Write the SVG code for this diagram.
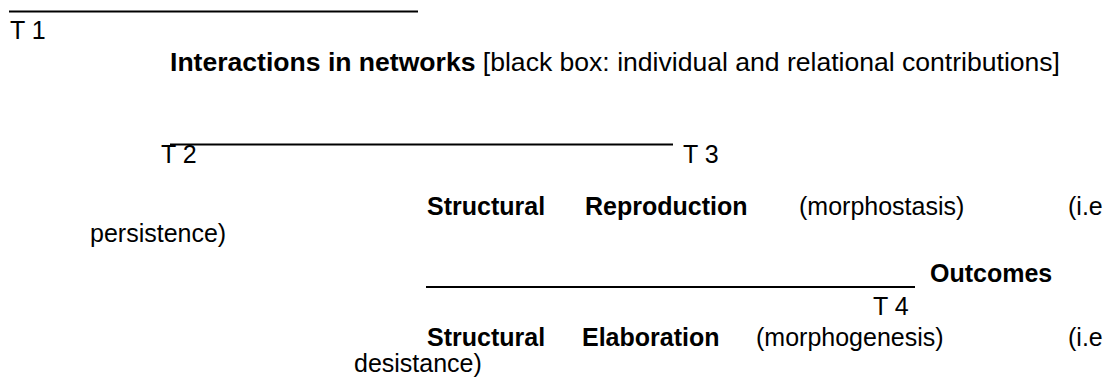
<svg xmlns="http://www.w3.org/2000/svg" width="1118" height="383" viewBox="0 0 1118 383">
  <style>
    text { font-family: "Liberation Sans", Arial, sans-serif; font-size: 25px; fill: #000; }
    .b { font-weight: bold; }
    .rule { stroke: #000; stroke-width: 1.8; fill: none; }
  </style>
  <rect width="1118" height="383" fill="#fff"/>

  <!-- timeline rules (typed underscores in the source layout) -->
  <g id="connectors">
    <line class="rule" x1="9" y1="11.5" x2="418" y2="11.5"/>
    <line class="rule" x1="170" y1="144.5" x2="673" y2="144.5"/>
    <line class="rule" x1="426" y1="287" x2="915" y2="287"/>
  </g>

  <g id="t1">
    <text x="10" y="39">T 1</text>
  </g>

  <g id="interactions">
    <text x="170" y="71" textLength="890" lengthAdjust="spacingAndGlyphs"><tspan class="b">Interactions in networks</tspan> [black box: individual and relational contributions]</text>
  </g>

  <g id="t2">
    <text x="161" y="163">T 2</text>
  </g>
  <g id="t3">
    <text x="683" y="163">T 3</text>
  </g>

  <!-- outcome: reproduction -->
  <g id="reproduction">
    <text class="b" x="427" y="215">Structural</text>
    <text class="b" x="585" y="215">Reproduction</text>
    <text x="799" y="215">(morphostasis)</text>
    <text x="1068" y="215">(i.e</text>
    <text x="90" y="242">persistence)</text>
  </g>

  <g id="outcomes">
    <text class="b" x="930" y="282">Outcomes</text>
  </g>
  <g id="t4">
    <text x="873" y="315">T 4</text>
  </g>

  <!-- outcome: elaboration -->
  <g id="elaboration">
    <text class="b" x="427" y="346">Structural</text>
    <text class="b" x="582" y="346">Elaboration</text>
    <text x="756" y="346">(morphogenesis)</text>
    <text x="1068" y="346">(i.e</text>
    <text x="354" y="372">desistance)</text>
  </g>
</svg>
